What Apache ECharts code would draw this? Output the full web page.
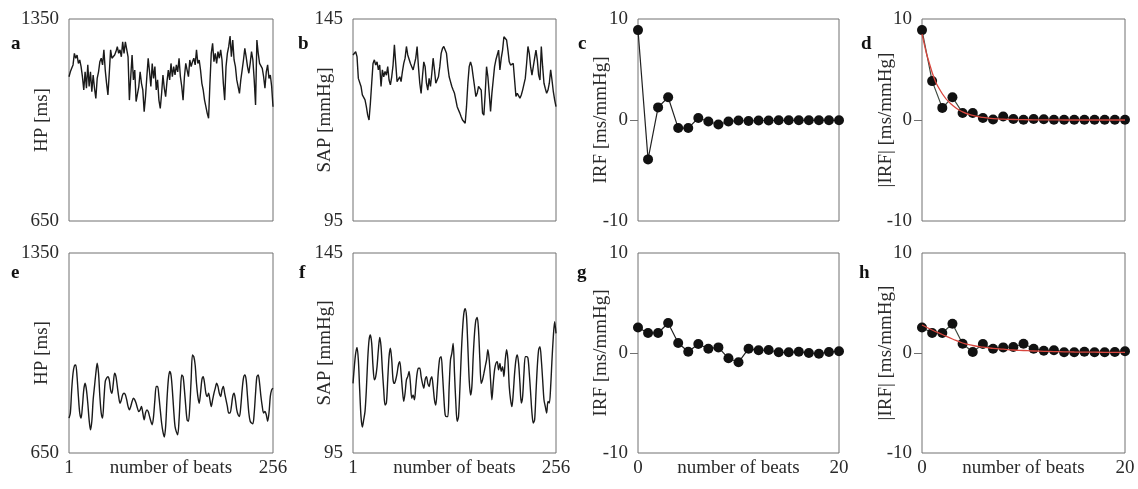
<!DOCTYPE html>
<html><head><meta charset="utf-8">
<script src="https://cdn.jsdelivr.net/npm/echarts@6/dist/echarts.min.js"></script>
<style>html,body{margin:0;padding:0;background:#fff}#c{width:1138px;height:489px}</style>
</head><body><div id="c"></div>
<script>
// ---------- data ----------
const hpA = [1150,1167,1179,1191,1231,1214,1225,1196,1208,1185,
1150,1104,1167,1110,1191,1116,1167,1098,1156,1110,
1075,1144,1167,1202,1214,1191,1243,1173,1127,1087,
1162,1243,1214,1219,1225,1237,1254,1231,1243,1219,
1271,1231,1271,1277,1219,1069,1150,1225,1139,1173,
1064,1069,1116,1167,1127,1104,1029,1081,1150,1214,
1167,1116,1196,1144,1185,1104,1139,1069,1040,1092,
1156,1110,1081,1133,1173,1139,1196,1150,1185,1156,
1191,1167,1214,1150,1116,1069,1150,1196,1173,1150,
1208,1185,1202,1214,1191,1243,1196,1208,1173,1127,
1104,1069,1046,1023,1006,1127,1231,1266,1202,1231,
1196,1237,1214,1243,1208,1127,1069,1185,1231,1254,
1291,1219,1277,1208,1185,1139,1116,1092,1139,1173,
1208,1248,1219,1185,1162,1196,1237,1208,1139,1052,
1277,1231,1196,1202,1179,1150,1110,1167,1191,1144,
1156,1116,1046];
const sapB = [136.1,136.5,136.9,135.7,130.3,129.9,128.3,126.2,125.8,125.0,
123.3,121.2,120.0,124.1,129.1,134.0,134.9,133.6,134.4,132.4,
133.6,128.3,132.4,130.7,132.0,131.1,133.2,129.9,128.7,130.7,
133.6,138.6,134.0,129.5,129.9,130.7,129.5,132.0,134.0,135.3,
138.2,136.1,136.5,134.0,134.4,132.4,132.0,135.3,138.2,133.2,
129.1,126.6,130.7,134.4,133.2,129.1,127.4,130.3,128.3,131.5,
135.3,132.4,129.1,129.9,130.7,133.2,136.5,137.7,138.2,138.6,
136.5,133.2,130.7,129.5,128.3,127.4,126.6,125.0,123.3,122.5,
121.7,120.8,120.0,119.6,119.2,123.3,129.1,133.2,134.4,133.2,
130.7,128.3,125.8,126.6,128.3,128.7,127.4,121.7,121.2,126.6,
133.2,130.7,126.6,122.1,126.6,129.9,133.2,134.9,135.3,137.3,
132.4,135.3,137.3,140.6,141.0,139.8,137.3,134.4,133.6,133.2,
134.0,129.9,125.8,126.6,126.2,125.4,126.2,127.4,127.0,130.3,
134.0,138.2,136.5,133.2,131.1,133.2,135.3,137.3,134.9,131.1,
129.9,138.2,133.2,129.1,127.8,126.6,127.4,129.1,132.4,129.9,
127.0,125.0,123.3];
const hpE = [772,790,871,929,955,958,917,848,790,772,
813,871,894,871,824,766,731,761,836,883,
929,964,929,848,790,772,836,900,912,917,
906,871,859,894,929,917,883,848,824,836,
854,859,854,836,813,801,813,830,842,836,
824,807,795,801,813,790,766,790,801,795,
778,761,749,778,836,883,883,848,801,755,
724,706,743,836,906,935,923,871,801,743,
724,714,766,859,923,917,871,813,766,761,
813,906,993,987,958,894,848,824,859,906,
917,894,859,848,859,836,813,836,859,877,
894,883,859,848,871,883,859,836,813,790,
790,813,848,859,836,801,784,778,813,871,
912,923,906,848,790,761,755,752,790,859,
917,923,894,848,813,790,795,784,761,790,
848,871,877];
const sapF = [112.4,116.6,119.9,121.4,118.3,110.8,104.1,101.5,103.3,105.4,
110.8,118.3,123.2,124.5,122.4,116.6,113.3,114.1,116.6,120.8,
123.9,121.6,115.8,110.8,107.0,107.5,113.3,119.1,121.2,118.3,
113.3,112.4,113.3,114.9,117.0,117.8,114.9,110.8,107.9,110.0,
113.3,114.1,115.4,112.4,108.7,109.5,108.3,111.6,114.9,116.2,
116.2,114.1,112.4,111.2,113.3,114.1,112.4,111.6,113.3,114.1,
111.6,108.3,107.0,110.8,115.8,118.7,119.1,114.9,109.1,104.6,
104.1,104.1,111.6,118.3,119.9,122.4,114.9,107.5,102.9,104.1,
110.8,119.1,125.7,129.9,131.1,129.1,121.6,113.3,109.5,111.6,
119.1,124.9,128.2,128.9,125.7,118.3,112.4,113.3,114.9,116.6,
118.3,120.8,118.3,113.3,108.3,112.4,115.8,117.4,117.8,115.8,
117.4,115.4,116.6,114.1,118.3,120.8,118.3,111.6,108.3,106.6,
110.0,114.9,118.3,119.5,117.4,112.4,107.5,109.1,114.9,119.1,
119.1,118.7,114.9,110.0,105.0,102.5,103.3,110.0,116.6,120.8,
121.6,118.3,113.3,108.3,106.6,105.0,107.9,107.5,111.6,118.3,
124.1,127.8,124.9];

const lags = [0,1,2,3,4,5,6,7,8,9,10,11,12,13,14,15,16,17,18,19,20];
const irfC = [8.9,-3.9,1.25,2.25,-0.8,-0.8,0.2,-0.15,-0.45,-0.15,-0.05,-0.1,-0.05,-0.05,-0.03,-0.03,-0.03,-0.03,-0.03,-0.03,-0.03];
const absIrfD = [8.9,3.85,1.2,2.25,0.7,0.7,0.2,0.05,0.35,0.1,0.02,0.1,0.07,0.03,0.03,0.03,0.03,0.03,0.03,0.03,0.03];
const fitD = [8.5,4.7,2.6,1.45,0.8,0.45,0.25,0.14,0.08,0.05,0.03,0.02,0.01,0.01,0,0,0,0,0,0,0];
const irfG = [2.55,2.0,2.0,3.0,1.0,0.13,0.9,0.43,0.56,-0.53,-0.93,0.43,0.27,0.3,0.07,0.07,0.13,0.0,-0.07,0.1,0.17];
const absIrfH = [2.55,2.0,2.0,2.92,0.93,0.1,0.9,0.43,0.56,0.6,0.93,0.43,0.23,0.27,0.07,0.07,0.13,0.07,0.07,0.1,0.17];
const fitH = [2.8,2.3,1.85,1.4,1.0,0.75,0.58,0.46,0.38,0.3,0.25,0.2,0.17,0.14,0.12,0.1,0.09,0.08,0.07,0.07,0.06];

const hpTicks = [650, 1350];
const sapTicks = [95, 145];
const irfTicks = [-10, 0, 10];
const beatTicks = [1, 256];
const lagTicks = [0, 20];
const panelLetters = ['a','b','c','d','e','f','g','h'];
const xName = 'number of beats';

// ---------- layout ----------
const FONT = '"Liberation Serif", "Times New Roman", serif';
const cols = [{left:69,width:204},{left:353,width:203},{left:638,width:201},{left:922,width:203}];
const rows = [{top:19,height:202},{top:253,height:200}];
const letterPos = [[11,35],[298,35],[578,35],[861,35],[11,264],[299,264],[577,264],[859,264]];

function beatsOf(vals){ const n = vals.length; return vals.map((v,i)=>[1 + i*255/(n-1), v]); }
function lagsOf(vals){ return vals.map((v,i)=>[lags[i], v]); }

const grids = [], xAxes = [], yAxes = [], series = [], titles = [];
const panels = [
  {kind:'ts', y:'hp'}, {kind:'ts', y:'sap'}, {kind:'irf', y:'irf'}, {kind:'irf', y:'abs'},
  {kind:'ts', y:'hp'}, {kind:'ts', y:'sap'}, {kind:'irf', y:'irf'}, {kind:'irf', y:'abs'}
];
const yCfg = {
  hp:  {min:650, max:1350, ticks:hpTicks, name:'HP [ms]', gap:17},
  sap: {min:95,  max:145,  ticks:sapTicks, name:'SAP [mmHg]', gap:18},
  irf: {min:-10, max:10,   ticks:irfTicks, name:'IRF [ms/mmHg]', gap:27},
  abs: {min:-10, max:10,   ticks:irfTicks, name:'|IRF| [ms/mmHg]', gap:26}
};
const txt = {fontFamily: FONT, fontSize: 19, color: '#2a2a2a'};
const plain = v => String(v);

panels.forEach((p, i) => {
  const c = cols[i % 4], r = rows[Math.floor(i / 4)];
  const bottom = i >= 4;
  grids.push({left:c.left, top:r.top, width:c.width, height:r.height, show:true,
    borderColor:'#707070', borderWidth:1, backgroundColor:'transparent', outerBoundsMode:'none'});
  const isTs = p.kind === 'ts';
  xAxes.push({type:'value', gridIndex:i, min: isTs ? 1 : 0, max: isTs ? 256 : 20,
    axisLine:{show:false}, axisTick:{show:false}, splitLine:{show:false},
    axisLabel: bottom ? Object.assign({show:true, margin:6, formatter: plain, customValues: isTs ? beatTicks : lagTicks}, txt) : {show:false},
    name: bottom ? xName : '', nameLocation:'middle', nameGap:6, nameMoveOverlap:false, nameTextStyle: txt});
  const yc = yCfg[p.y];
  yAxes.push({type:'value', gridIndex:i, min:yc.min, max:yc.max,
    axisLine:{show:false}, splitLine:{show:false},
    axisTick: isTs ? {show:false} : {show:true, inside:false, length:8, customValues:[0], lineStyle:{color:'#707070', width:1}},
    axisLabel: Object.assign({show:true, margin:10, formatter: plain, customValues: yc.ticks}, txt),
    name: yc.name, nameLocation:'middle', nameGap: yc.gap, nameMoveOverlap:false, nameTextStyle: txt});
  titles.push({text: panelLetters[i], left: letterPos[i][0], top: letterPos[i][1], padding:0,
    textStyle:{fontFamily: FONT, fontSize: 19, fontWeight:'bold', color:'#111'}});
});

function tsSeries(idx, vals, smooth){
  series.push({type:'line', xAxisIndex:idx, yAxisIndex:idx, data: beatsOf(vals), symbol:'none',
    smooth: smooth, lineStyle:{color:'#1a1a1a', width:1.4}, animation:false});
}
function irfSeries(idx, vals, lineColor){
  series.push({type:'line', xAxisIndex:idx, yAxisIndex:idx, data: lagsOf(vals), symbol:'circle', symbolSize:10,
    itemStyle:{color:'#111'}, lineStyle:{color: lineColor, width:1.2}, animation:false, z:2});
}
function fitSeries(idx, vals){
  series.push({type:'line', xAxisIndex:idx, yAxisIndex:idx, data: lagsOf(vals), symbol:'none', smooth:true,
    lineStyle:{color:'#d8463e', width:1.3}, animation:false, z:3});
}
tsSeries(0, hpA, false);
tsSeries(1, sapB, false);
irfSeries(2, irfC, '#222');
irfSeries(3, absIrfD, '#3f4a40');
fitSeries(3, fitD);
tsSeries(4, hpE, 0.3);
tsSeries(5, sapF, 0.3);
irfSeries(6, irfG, '#222');
irfSeries(7, absIrfH, '#3f4a40');
fitSeries(7, fitH);

const chart = echarts.init(document.getElementById('c'), null, {renderer:'canvas'});
chart.setOption({animation:false, backgroundColor:'#fff', title:titles, grid:grids, xAxis:xAxes, yAxis:yAxes, series:series});
</script></body></html>
